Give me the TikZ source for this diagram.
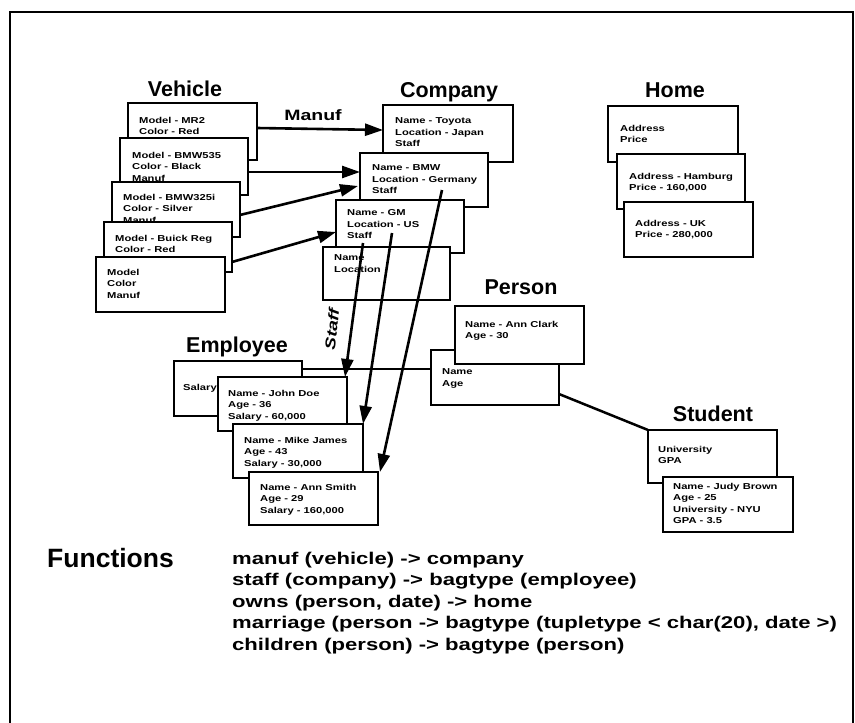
\documentclass[tikz,border=0pt]{standalone}
\usepackage{fontspec}
\setmainfont{Liberation Sans}
\newfontfamily\widefont[FakeStretch=1.3]{Liberation Sans}
\usetikzlibrary{arrows.meta,calc}

\tikzset{
 obox/.style={draw, fill=white, line width=1.5pt, anchor=north west, inner sep=0pt, outer sep=0pt},
 otext/.style={anchor=north west, inner sep=0pt, align=left, font=\widefont\bfseries\fontsize{8.6}{11.5}\selectfont},
 ttl/.style={anchor=base, inner sep=0pt, font=\bfseries\fontsize{21.5}{24}\selectfont},
 link/.style={line width=2.6pt, -{Triangle[length=18pt,width=12pt]}},
 isa/.style={line width=1.5pt},
 isathick/.style={line width=2.5pt},
 fn/.style={anchor=base west, inner sep=0pt, font=\widefont\bfseries\fontsize{17}{20}\selectfont},
 borderline/.style={line width=1.6pt},
}

\newcommand{\objbox}[8]{%
  \node[obox, minimum width=#4pt, minimum height=#5pt] (#1) at (#2,#3) {};
  \node[otext] (#1-t) at ($(#1.north west)+(#6,#7-3.3)$) {#8};
}

\begin{document}
\begin{tikzpicture}[x=1pt,y=-1pt]
\useasboundingbox (0,0) rectangle (855,723);
\draw[borderline] (10,730) -- (10,12) -- (853,12) -- (853,730);

% titles
\node[ttl] (tveh) at (185,96) {Vehicle};
\node[ttl] (tcomp) at (449,97) {Company};
\node[ttl] (thome) at (675,97) {Home};
\node[ttl] (tpers) at (521,294) {Person};
\node[ttl] (temp) at (237,352) {Employee};
\node[ttl] (tstud) at (713,421) {Student};
\node[anchor=base, inner sep=0pt, font=\widefont\bfseries\fontsize{15}{15}\selectfont] (manuf) at (313,120) {Manuf};

% vehicles
\objbox{v1}{128}{103}{129}{57}{11}{17}{Model - MR2\\Color - Red}
\objbox{v2}{120}{138}{128}{57}{12}{17}{Model - BMW535\\Color - Black\\Manuf}
\objbox{v3}{112}{182}{128}{55}{11}{15}{Model - BMW325i\\Color - Silver\\Manuf}
\objbox{v4}{104}{222}{128}{50}{11}{16}{Model - Buick Reg\\Color - Red}
\objbox{v5}{96}{257}{129}{55}{11}{15}{Model\\Color\\Manuf}

% companies
\objbox{c1}{383}{105}{130}{57}{12}{16}{Name - Toyota\\Location - Japan\\Staff}
\objbox{c2}{360}{153}{128}{54}{12}{15}{Name - BMW\\Location - Germany\\Staff}
\objbox{c3}{336}{200}{128}{53}{11}{13}{Name - GM\\Location - US\\Staff}
\objbox{c4}{323}{247}{127}{53}{11}{11}{Name\\Location}

% homes
\objbox{h1}{608}{106}{130}{56}{12}{22}{Address\\Price}
\objbox{h2}{617}{154}{128}{55}{12}{22}{Address - Hamburg\\Price - 160,000}
\objbox{h3}{624}{202}{129}{55}{11}{21}{Address - UK\\Price - 280,000}

% employees
\objbox{e1}{174}{361}{128}{55}{9}{26}{Salary}
\objbox{e2}{218}{377}{129}{54}{10}{16}{Name - John Doe\\Age - 36\\Salary - 60,000}
\objbox{e3}{233}{424}{130}{54}{11}{16}{Name - Mike James\\Age - 43\\Salary - 30,000}
\objbox{e4}{249}{472}{129}{53}{11}{15}{Name - Ann Smith\\Age - 29\\Salary - 160,000}

% persons
\objbox{p2}{431}{350}{128}{55}{11}{22}{Name\\Age}
\objbox{p1}{455}{306}{129}{58}{10}{18}{Name - Ann Clark\\Age - 30}

% students
\objbox{s1}{648}{430}{129}{53}{10}{19}{University\\GPA}
\objbox{s2}{663}{477}{130}{55}{10}{9}{Name - Judy Brown\\Age - 25\\University - NYU\\GPA - 3.5}

% manuf arrows
\draw[link] ($(v1.north east)+(0,25)$) -- ($(c1.north west)+(0,25)$);
\draw[link] ($(v2.north east)+(0,34)$) -- ($(c2.north west)+(0,19)$);
\draw[link] ($(v3.north east)+(0,33)$) -- ($(c2.north west)+(-2,33)$);
\draw[link] ($(v4.north east)+(0,40)$) -- ($(c3.north west)+(0,32)$);

% staff arrows
\draw[link] ($(c3.north west)+(27,43)$) -- ($(e2.north east)+(-2,0)$);
\draw[link] ($(c3.north west)+(56,33)$) -- (e3.north east);
\draw[link] ($(c2.north west)+(82,37)$) -- ($(e4.north east)+(2,0)$);
\node[rotate=84, inner sep=0pt, font=\widefont\bfseries\itshape\fontsize{14.5}{15}\selectfont] (stafflbl) at (332,329) {Staff};

% is-a lines
\draw[isa] ($(e1.north east)+(0,8)$) -- ($(p2.north west)+(0,19)$);
\draw[isathick] ($(p2.north east)+(0,44)$) -- (s1.north west);

% functions
\node[anchor=base west, inner sep=0pt, font=\bfseries\fontsize{26.5}{30}\selectfont] (fhead) at (47,567) {Functions};
\node[fn] (f1) at (232,564) {manuf (vehicle) -> company};
\node[fn] (f2) at (232,585.5) {staff (company) -> bagtype (employee)};
\node[fn] (f3) at (232,607) {owns (person, date) -> home};
\node[fn] (f4) at (232,628.5) {marriage (person -> bagtype (tupletype < char(20), date >)};
\node[fn] (f5) at (232,650) {children (person) -> bagtype (person)};
\end{tikzpicture}
\end{document}
